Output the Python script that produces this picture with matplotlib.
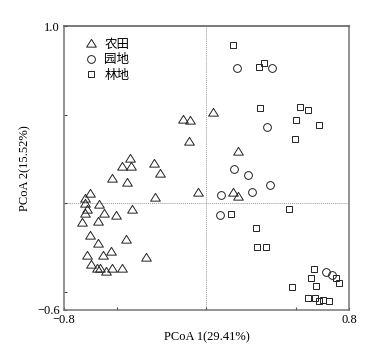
import numpy as np
import matplotlib
matplotlib.use("Agg")
import matplotlib.pyplot as plt
from matplotlib.path import Path

# PCoA scores
farm_x = [-0.134, -0.093, -0.097, 0.038, -0.429, -0.476, -0.424, -0.295, -0.261, -0.529,
          -0.448, -0.046, -0.654, -0.289, -0.682, -0.682, -0.604, -0.673, -0.417, -0.682,
          -0.574, -0.508, -0.697, -0.607, -0.654, -0.607, -0.450, -0.534, -0.673, -0.579,
          -0.338, -0.648, -0.616, -0.598, -0.564, -0.532, -0.476, 0.147, 0.179, 0.179]
farm_y = [0.476, 0.470, 0.354, 0.517, 0.255, 0.213, 0.213, 0.226, 0.170, 0.145,
          0.119, 0.066, 0.057, 0.038, 0.029, 0.001, -0.003, -0.033, -0.033, -0.055,
          -0.055, -0.065, -0.106, -0.099, -0.178, -0.224, -0.200, -0.266, -0.290, -0.290,
          -0.300, -0.341, -0.365, -0.365, -0.379, -0.365, -0.365, 0.066, 0.042, 0.296]

orchard_x = [0.173, 0.369, 0.341, 0.154, 0.235, 0.356, 0.081, 0.257, 0.076, 0.671, 0.703]
orchard_y = [0.765, 0.765, 0.429, 0.193, 0.161, 0.104, 0.048, 0.063, -0.065, -0.388, -0.403]

forest_x = [0.150, 0.296, 0.323, 0.300, 0.525, 0.572, 0.502, 0.633, 0.499, 0.136,
            0.465, 0.278, 0.285, 0.336, 0.604, 0.725, 0.744, 0.588, 0.615, 0.482,
            0.568, 0.611, 0.632, 0.656, 0.688]
forest_y = [0.893, 0.767, 0.793, 0.536, 0.545, 0.527, 0.470, 0.442, 0.363, -0.059,
            -0.033, -0.140, -0.247, -0.247, -0.371, -0.421, -0.450, -0.421, -0.465, -0.469,
            -0.532, -0.534, -0.549, -0.541, -0.549]

labels = ["农田", "园地", "林地"]
x_ticks = [-0.8, -0.5, 0, 0.5, 0.8]
x_ticklabels = ["\u22120.8", "", "", "", "0.8"]
y_ticks = [-0.6, -0.5, 0, 0.5, 1.0]
y_ticklabels = ["\u22120.6", "", "", "", "1.0"]

plt.rcParams["font.family"] = ["Liberation Serif", "Noto Sans CJK SC"]
plt.rcParams["font.size"] = 9

fig = plt.figure(figsize=(3.74, 3.5), dpi=100)
ax = fig.add_axes([0.171, 0.1143, 0.762, 0.8114])

# slightly flattened open triangle
tri = Path([(-1, -0.75), (1, -0.75), (0, 0.85), (-1, -0.75)],
           [Path.MOVETO, Path.LINETO, Path.LINETO, Path.CLOSEPOLY])
kw = dict(linestyle="none", markerfacecolor="none", markeredgecolor="#222",
          markeredgewidth=0.7)
ax.plot(farm_x, farm_y, marker=tri, markersize=7, label=labels[0], **kw)
ax.plot(orchard_x, orchard_y, marker="o", markersize=5.6, label=labels[1], **kw)
ax.plot(forest_x, forest_y, marker="s", markersize=4.6, label=labels[2], **kw)

ax.axhline(0, color="#999", lw=0.7, ls=(0, (1, 1)), zorder=0)
ax.axvline(0, color="#999", lw=0.7, ls=(0, (1, 1)), zorder=0)

ax.set_xlim(-0.8, 0.8)
ax.set_ylim(-0.6, 1.0)
ax.set_xticks(x_ticks)
ax.set_xticklabels(x_ticklabels)
ax.set_yticks(y_ticks)
ax.set_yticklabels(y_ticklabels)
ax.tick_params(direction="in", length=2, width=0.8, color="#444", pad=3)
for s in ax.spines.values():
    s.set_color("#777")
    s.set_linewidth(1.1)
ax.spines["top"].set_color("#555")

ax.set_xlabel("PCoA 1(29.41%)", labelpad=4)
ax.set_ylabel("PCoA 2(15.52%)", labelpad=4)

leg = ax.legend(loc="upper left", bbox_to_anchor=(0.05, 0.985), frameon=False,
                handlelength=0.8, handletextpad=0.7, labelspacing=0.2,
                borderaxespad=0.2,
                prop={"family": ["Noto Sans CJK SC"], "size": 9})

fig.savefig("out.png", dpi=100)
